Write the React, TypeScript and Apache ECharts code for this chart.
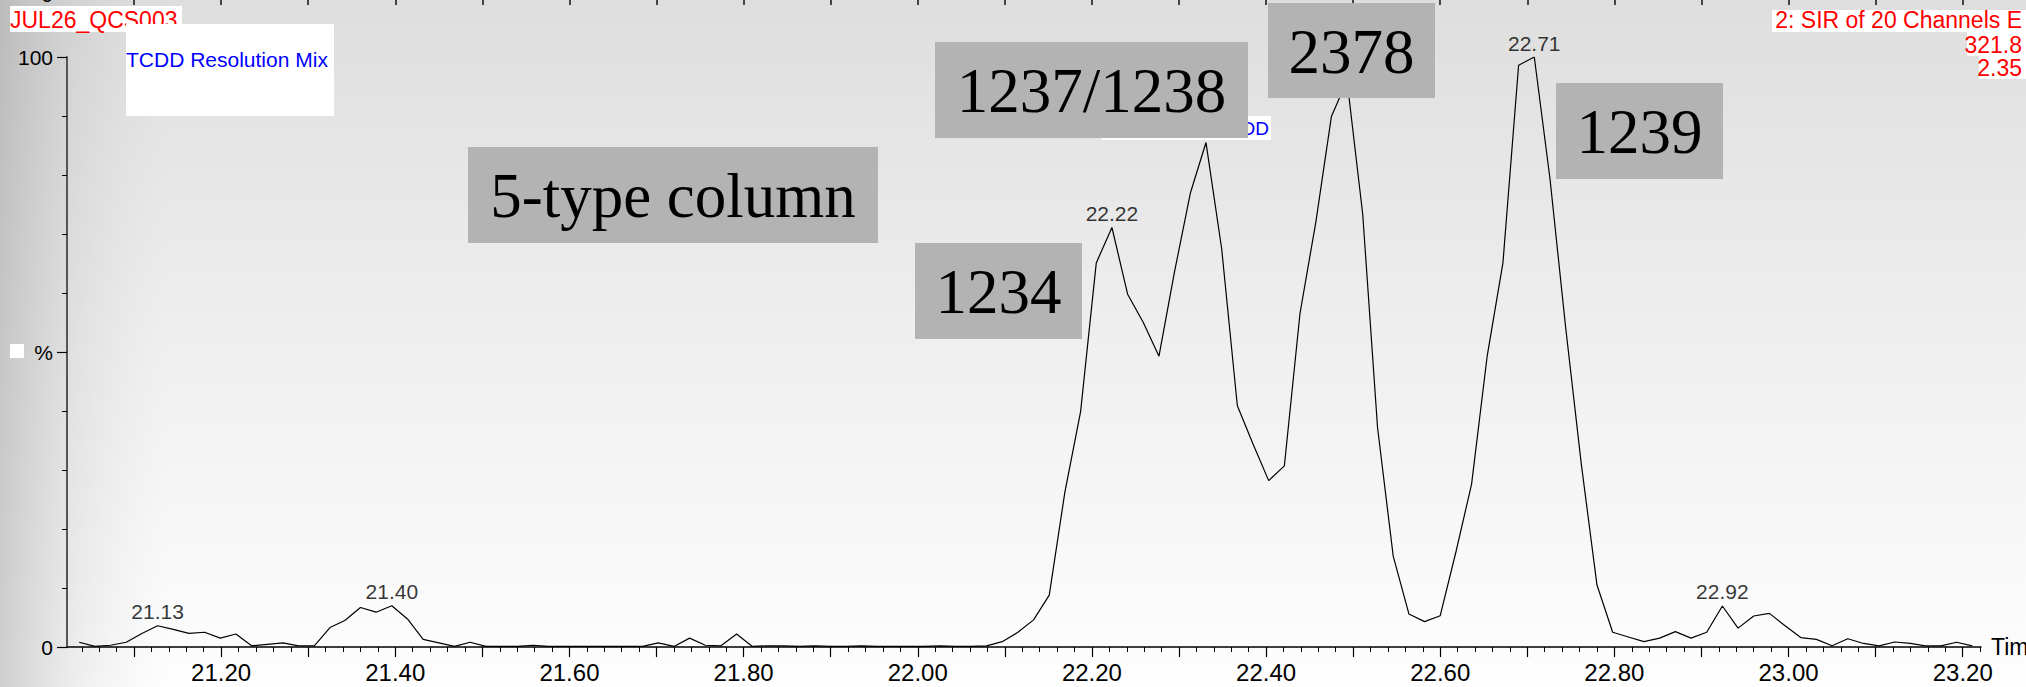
import React, { useEffect, useRef } from "react";
import * as echarts from "echarts";

// Retention times (min) of each scan
const times = [
  21.037, 21.055, 21.073, 21.091, 21.109, 21.127, 21.145, 21.163, 21.181, 21.199,
  21.217, 21.235, 21.253, 21.271, 21.289, 21.307, 21.325, 21.342, 21.360, 21.378,
  21.396, 21.414, 21.432, 21.450, 21.468, 21.486, 21.504, 21.522, 21.540, 21.558,
  21.576, 21.594, 21.612, 21.630, 21.648, 21.666, 21.684, 21.702, 21.720, 21.738,
  21.756, 21.774, 21.792, 21.810, 21.828, 21.846, 21.864, 21.882, 21.900, 21.918,
  21.935, 21.953, 21.971, 21.989, 22.007, 22.025, 22.043, 22.061, 22.079, 22.097,
  22.115, 22.133, 22.151, 22.169, 22.187, 22.205, 22.223, 22.241, 22.259, 22.277,
  22.295, 22.313, 22.331, 22.349, 22.367, 22.385, 22.403, 22.421, 22.439, 22.457,
  22.475, 22.493, 22.511, 22.528, 22.546, 22.564, 22.582, 22.600, 22.618, 22.636,
  22.654, 22.672, 22.690, 22.708, 22.726, 22.744, 22.762, 22.780, 22.798, 22.816,
  22.834, 22.852, 22.870, 22.888, 22.906, 22.924, 22.942, 22.960, 22.978, 22.996,
  23.014, 23.032, 23.050, 23.068, 23.086, 23.104, 23.122, 23.140, 23.157, 23.175,
  23.193, 23.211,
];

// Relative intensity (%)
const intensity = [
  0.8, 0.1, 0.3, 0.8, 2.3, 3.6, 3.0, 2.3, 2.5, 1.5,
  2.2, 0.2, 0.45, 0.7, 0.2, 0.2, 3.3, 4.5, 6.7, 5.9,
  7.0, 4.75, 1.3, 0.7, 0.1, 0.8, 0.1, 0.1, 0.1, 0.3,
  0.1, 0.1, 0.1, 0.1, 0.1, 0.1, 0.1, 0.7, 0.1, 1.5,
  0.3, 0.2, 2.2, 0.1, 0.2, 0.2, 0.1, 0.2, 0.1, 0.1,
  0.2, 0.1, 0.1, 0.1, 0.1, 0.2, 0.1, 0.1, 0.2, 0.9,
  2.5, 4.6, 8.8, 26.3, 39.9, 65.1, 71.1, 59.8, 55.0, 49.3,
  63.7, 76.9, 85.5, 67.5, 40.9, 34.4, 28.2, 30.7, 56.6, 71.9,
  89.9, 96.0, 73.3, 37.2, 15.4, 5.6, 4.3, 5.3, 16.1, 27.6,
  49.4, 65.1, 98.6, 100, 79.4, 54.2, 31.0, 10.5, 2.5, 1.7,
  0.9, 1.5, 2.6, 1.5, 2.5, 6.95, 3.2, 5.25, 5.7, 3.6,
  1.6, 1.3, 0.2, 1.4, 0.6, 0.2, 0.85, 0.6, 0.2, 0.2,
  0.8, 0.2,
];

// Peaks whose retention time is printed above them
const labeledPeakTimes = [21.127, 21.396, 22.223, 22.708, 22.924];

// Axis ticks / labels
const xLabelValues = [21.2, 21.4, 21.6, 21.8, 22.0, 22.2, 22.4, 22.6, 22.8, 23.0, 23.2];
const xMajorTickValues = [
  21.1, 21.2, 21.3, 21.4, 21.5, 21.6, 21.7, 21.8, 21.9, 22.0, 22.1,
  22.2, 22.3, 22.4, 22.5, 22.6, 22.7, 22.8, 22.9, 23.0, 23.1, 23.2,
];
const X_MIN = 21.023;
const X_MAX = 23.221;

const headerLeft = "JUL26_QCS003";
const sampleName = "TCDD Resolution Mix";
const headerRight = ["2: SIR of 20 Channels E", "321.8", "2.35"];
const hiddenPeakName = "2,3,7,8-TCDD";
const annotationTexts = ["5-type column", "1237/1238", "2378", "1234", "1239"];

const SANS = '"Liberation Sans", Arial, sans-serif';
const SERIF = '"Liberation Serif", "Times New Roman", serif';

export default function App() {
  const ref = useRef<HTMLDivElement>(null);

  useEffect(() => {
    if (!ref.current) return;
    const chart = echarts.init(ref.current, undefined, { renderer: "svg" });

    const minorTicks: number[] = [];
    for (let i = 0; i <= 109; i++) minorTicks.push(Math.round((21.04 + i * 0.02) * 100) / 100);

    const lineData = times.map((t, i) => [t, intensity[i]]);
    const peakData = labeledPeakTimes.map((t) => [t, intensity[times.indexOf(t)]]);

    const boxes = [
      { text: annotationTexts[0], x: 468, y: 147, w: 410, h: 96 },
      { text: annotationTexts[1], x: 935, y: 42, w: 313, h: 96 },
      { text: annotationTexts[2], x: 1268, y: 3, w: 167, h: 95 },
      { text: annotationTexts[3], x: 915, y: 243, w: 167, h: 96 },
      { text: annotationTexts[4], x: 1556, y: 83, w: 167, h: 96 },
    ];

    const rightY = [20, 44.5, 68];
    const rightBg = [
      { x: 1772, y: 10, w: 254, h: 22 },
      { x: 1967, y: 32, w: 59, h: 24 },
      { x: 1979, y: 56, w: 47, h: 23 },
    ];

    const graphic: any[] = [
      {
        type: "rect",
        silent: true,
        z: -100,
        shape: { x: 0, y: 0, width: 2026, height: 687 },
        style: {
          fill: new echarts.graphic.LinearGradient(0, 0, 0, 1, [
            { offset: 0, color: "#dedede" },
            { offset: 0.5, color: "#efefef" },
            { offset: 1, color: "#fefefe" },
          ]),
        },
      },
      {
        type: "rect",
        silent: true,
        z: -99,
        shape: { x: 0, y: 0, width: 170, height: 687 },
        style: {
          fill: new echarts.graphic.LinearGradient(0, 0, 1, 0, [
            { offset: 0, color: "rgba(130,130,130,0.38)" },
            { offset: 0.4, color: "rgba(150,150,150,0.18)" },
            { offset: 1, color: "rgba(200,200,200,0)" },
          ]),
        },
      },
      {
        type: "rect",
        silent: true,
        z: 50,
        shape: { x: 10, y: 344, width: 14, height: 14 },
        style: { fill: "#ffffff" },
      },
      // top-left header
      { type: "rect", silent: true, z: 50, shape: { x: 10, y: 6, width: 172, height: 26 }, style: { fill: "#ffffff" } },
      {
        type: "text", silent: true, z: 51,
        style: { text: headerLeft, x: 10, y: 20, font: `23px ${SANS}`, fill: "#ff0000", textAlign: "left", textVerticalAlign: "middle" },
      },
      { type: "rect", silent: true, z: 52, shape: { x: 126, y: 24, width: 208, height: 92 }, style: { fill: "#ffffff" } },
      {
        type: "text", silent: true, z: 53,
        style: { text: sampleName, x: 126, y: 59, font: `21px ${SANS}`, fill: "#0000ff", textAlign: "left", textVerticalAlign: "middle" },
      },
      // top-right header
      ...rightBg.map((b) => ({
        type: "rect", silent: true, z: 50,
        shape: { x: b.x, y: b.y, width: b.w, height: b.h },
        style: { fill: "#ffffff" },
      })),
      ...headerRight.map((t, i) => ({
        type: "text", silent: true, z: 51,
        style: { text: t, x: 2022, y: rightY[i], font: `23px ${SANS}`, fill: "#ff0000", textAlign: "right", textVerticalAlign: "middle" },
      })),
      // compound label partly hidden under the 1237/1238 box
      { type: "rect", silent: true, z: 60, shape: { x: 1102, y: 116, width: 169, height: 24 }, style: { fill: "#ffffff" } },
      {
        type: "text", silent: true, z: 61,
        style: { text: hiddenPeakName, x: 1269, y: 128, font: `19px ${SANS}`, fill: "#0000ff", textAlign: "right", textVerticalAlign: "middle" },
      },
    ];

    boxes.forEach((b) => {
      graphic.push({
        type: "rect", silent: true, z: 100,
        shape: { x: b.x, y: b.y, width: b.w, height: b.h },
        style: { fill: "#b3b3b3" },
      });
      graphic.push({
        type: "text", silent: true, z: 101,
        style: {
          text: b.text, x: b.x + b.w / 2, y: b.y + b.h / 2 + 1,
          font: `63px ${SERIF}`, fill: "#000000", textAlign: "center", textVerticalAlign: "middle",
        },
      });
    });

    const option: any = {
      animation: false,
      backgroundColor: "transparent",
      textStyle: { fontFamily: SANS },
      graphic,
      grid: [
        { left: 67, right: 45, top: 57, bottom: 40, containLabel: false, outerBoundsMode: "none" },
        { left: 67, right: 45, top: -60, height: 60, containLabel: false, outerBoundsMode: "none" },
      ],
      xAxis: [
        {
          type: "value",
          gridIndex: 0,
          position: "bottom",
          min: X_MIN,
          max: X_MAX,
          axisLine: { show: true, lineStyle: { color: "#000000", width: 1.5 } },
          axisTick: { show: true, customValues: xMajorTickValues, length: 10, lineStyle: { color: "#000000", width: 1.2 } },
          axisLabel: {
            show: true,
            customValues: xLabelValues,
            formatter: (v: number) => v.toFixed(2),
            fontSize: 24,
            color: "#000000",
            margin: 13,
            fontFamily: SANS,
          },
          splitLine: { show: false },
          name: "Time",
          nameLocation: "end",
          nameGap: 10,
          nameTextStyle: { fontSize: 23, color: "#000000", fontFamily: SANS, align: "left", verticalAlign: "middle" },
        },
        {
          type: "value",
          gridIndex: 0,
          position: "bottom",
          min: X_MIN,
          max: X_MAX,
          axisLine: { show: false },
          axisTick: { show: true, customValues: minorTicks, length: 5, lineStyle: { color: "#000000", width: 1 } },
          axisLabel: { show: false },
          splitLine: { show: false },
        },
        {
          // ticks of the panel above, cut by the top edge of the picture
          type: "value",
          gridIndex: 1,
          position: "bottom",
          min: X_MIN,
          max: X_MAX,
          axisLine: { show: false },
          axisTick: { show: true, customValues: xMajorTickValues, length: 5, lineStyle: { color: "#111111", width: 1.5 } },
          axisLabel: { show: false },
          splitLine: { show: false },
        },
      ],
      yAxis: [
        {
          type: "value",
          gridIndex: 0,
          position: "left",
          min: 0,
          max: 100,
          interval: 50,
          axisLine: { show: true, lineStyle: { color: "#555555", width: 2 } },
          axisTick: { show: true, length: 10, lineStyle: { color: "#000000", width: 1.2 } },
          minorTick: { show: true, splitNumber: 5, length: 5, lineStyle: { color: "#000000", width: 1 } },
          axisLabel: {
            formatter: (v: number) => (v === 50 ? "%" : String(v)),
            fontSize: 21,
            color: "#000000",
            margin: 14,
            fontFamily: SANS,
          },
          splitLine: { show: false },
          minorSplitLine: { show: false },
        },
        {
          type: "value",
          gridIndex: 1,
          position: "left",
          min: 0,
          max: 100,
          axisLine: { show: false },
          axisTick: { show: false },
          axisLabel: {
            customValues: [10],
            formatter: () => "0",
            fontSize: 21,
            color: "#000000",
            margin: 14,
            fontFamily: SANS,
          },
          splitLine: { show: false },
        },
      ],
      series: [
        {
          type: "line",
          xAxisIndex: 0,
          yAxisIndex: 0,
          data: lineData,
          showSymbol: false,
          symbol: "none",
          lineStyle: { color: "#000000", width: 1.2 },
          z: 10,
        },
        {
          type: "scatter",
          xAxisIndex: 0,
          yAxisIndex: 0,
          data: peakData,
          symbolSize: 1,
          itemStyle: { color: "rgba(0,0,0,0)" },
          label: {
            show: true,
            position: "top",
            distance: 3,
            formatter: (p: any) => Number(p.value[0]).toFixed(2),
            fontSize: 21,
            color: "#000000",
            fontFamily: SANS,
          },
          z: 11,
        },
      ],
    };

    chart.setOption(option);
    return () => chart.dispose();
  }, []);

  return (
    <div
      ref={ref}
      style={{ position: "absolute", left: 0, top: 0, width: 2026, height: 687 }}
    />
  );
}
